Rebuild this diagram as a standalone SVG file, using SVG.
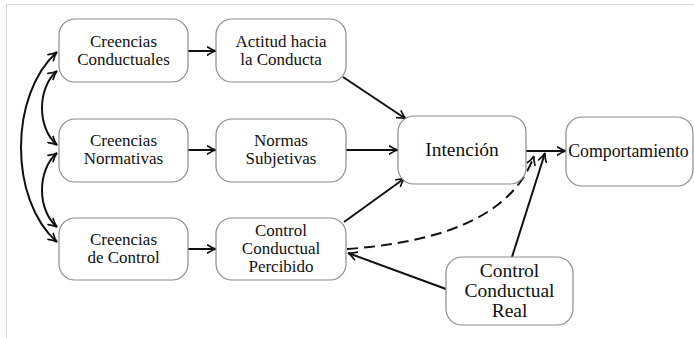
<svg xmlns="http://www.w3.org/2000/svg" width="694" height="338" viewBox="0 0 694 338">
<defs>
<style>
.box{fill:#fff;stroke:#8c8c8c;stroke-width:1.2}
.t{font-family:"Liberation Serif","Times New Roman",serif;font-size:17px;fill:#111;text-anchor:middle}
.tl{font-size:19.5px}
.tm{font-size:17.8px}
.c{fill:none;stroke:#111;stroke-width:2}
.d{stroke-dasharray:11 6}
</style>
<marker id="ah" viewBox="0 0 10 10" refX="9.5" refY="5" markerWidth="10" markerHeight="10" markerUnits="userSpaceOnUse" orient="auto-start-reverse">
<path d="M1,1 Q6,4.3 9.5,5 Q6,5.7 1,9" fill="none" stroke="#111" stroke-width="1.7" stroke-linecap="round"/>
</marker>
</defs>
<rect width="694" height="338" fill="#fff"/>
<path d="M6.5,338 V4.5 H694" fill="none" stroke="#d6d6d6" stroke-width="1"/>
<g id="connectors">
<path class="c" d="M57,52 C9,95 9,200 57,242" marker-start="url(#ah)" marker-end="url(#ah)"/>
<path class="c" d="M57,71 C37,88 37,128 57,145" marker-start="url(#ah)" marker-end="url(#ah)"/>
<path class="c" d="M57,153 C37,170 37,210 57,227" marker-start="url(#ah)" marker-end="url(#ah)"/>
<line class="c" x1="188" y1="51" x2="216" y2="51" marker-end="url(#ah)"/>
<line class="c" x1="188" y1="150" x2="216" y2="150" marker-end="url(#ah)"/>
<line class="c" x1="188" y1="249" x2="216" y2="249" marker-end="url(#ah)"/>
<line class="c" x1="343" y1="77" x2="406" y2="119" marker-end="url(#ah)"/>
<line class="c" x1="346" y1="150" x2="398" y2="150" marker-end="url(#ah)"/>
<line class="c" x1="344" y1="222" x2="405" y2="178" marker-end="url(#ah)"/>
<line class="c" x1="526" y1="151" x2="566" y2="151" marker-end="url(#ah)"/>
<path class="c d" d="M347,249 Q505,238 534,156" marker-end="url(#ah)"/>
<line class="c" x1="512" y1="257" x2="545" y2="153" marker-end="url(#ah)"/>
<line class="c" x1="446" y1="289" x2="348" y2="253" marker-end="url(#ah)"/>
</g>
<g id="n1"><rect class="box" x="59" y="19" width="129" height="63" rx="16"/><text class="t" x="123.5" y="47">Creencias</text><text class="t" x="123.5" y="65">Conductuales</text></g>
<g id="n2"><rect class="box" x="216" y="19" width="130" height="63" rx="16"/><text class="t" x="281" y="47">Actitud hacia</text><text class="t" x="281" y="65">la Conducta</text></g>
<g id="n3"><rect class="box" x="59" y="119" width="129" height="63" rx="16"/><text class="t" x="123.5" y="146">Creencias</text><text class="t" x="123.5" y="164">Normativas</text></g>
<g id="n4"><rect class="box" x="216" y="119" width="130" height="63" rx="16"/><text class="t" x="281" y="146">Normas</text><text class="t" x="281" y="164">Subjetivas</text></g>
<g id="n5"><rect class="box" x="59" y="218" width="129" height="62" rx="16"/><text class="t" x="123.5" y="245">Creencias</text><text class="t" x="123.5" y="263">de Control</text></g>
<g id="n6"><rect class="box" x="216" y="218" width="130" height="62" rx="16"/><text class="t" x="281" y="236">Control</text><text class="t" x="281" y="254">Conductual</text><text class="t" x="281" y="272">Percibido</text></g>
<g id="n7"><rect class="box" x="398" y="116" width="128" height="68" rx="16"/><text class="t tl" x="462" y="156">Intención</text></g>
<g id="n8"><rect class="box" x="566" y="117" width="127" height="69" rx="16"/><text class="t tm" x="628.5" y="157">Comportamiento</text></g>
<g id="n9"><rect class="box" x="446" y="257" width="127" height="68" rx="16"/><text class="t tl" x="509.5" y="277">Control</text><text class="t tl" x="509.5" y="297">Conductual</text><text class="t tl" x="509.5" y="317">Real</text></g>
</svg>
